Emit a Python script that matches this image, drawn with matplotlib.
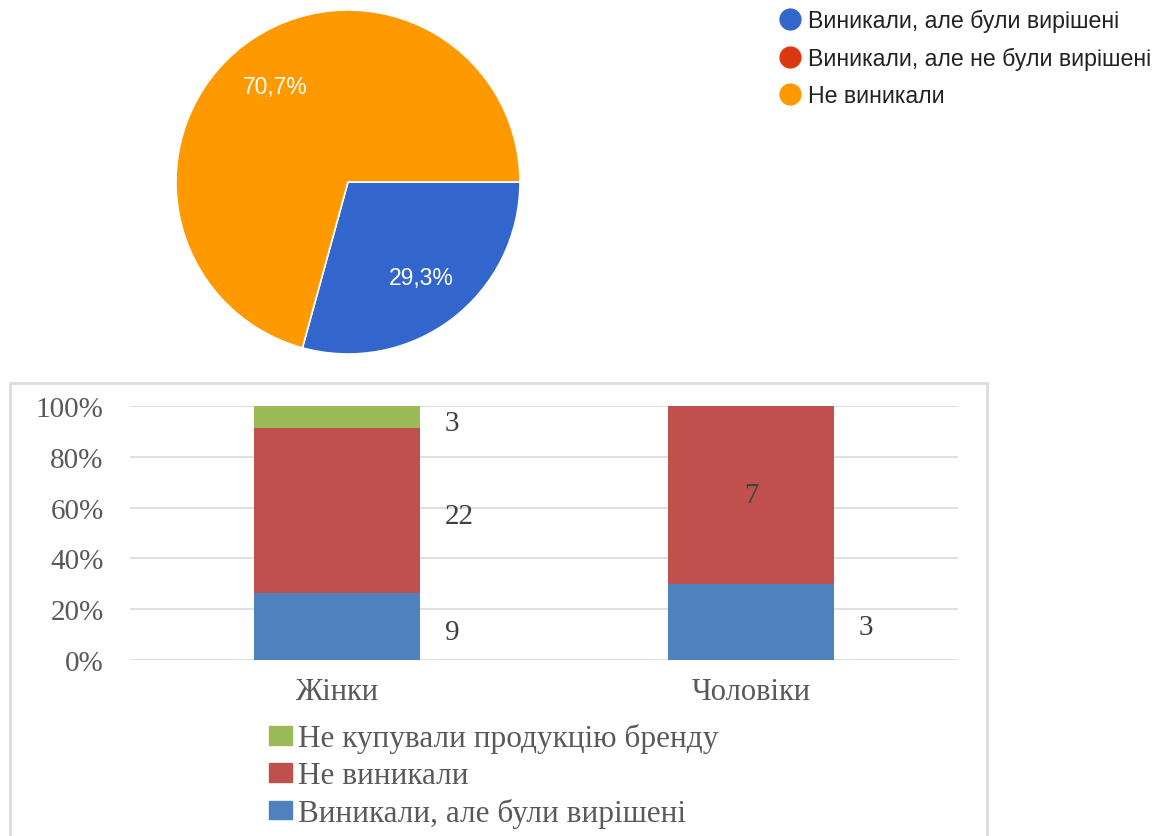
import matplotlib.pyplot as plt
from matplotlib.lines import Line2D
from matplotlib.patches import Rectangle, Patch
from matplotlib.ticker import PercentFormatter

# Кругова діаграма: чи виникали проблеми
pie_labels = ["Виникали, але були вирішені", "Виникали, але не були вирішені", "Не виникали"]
pie_counts = [12, 0, 29]
pie_colors = ["#3366cc", "#dc3912", "#ff9900"]

# Стовпчикова діаграма за статтю
groups = ["Жінки", "Чоловіки"]
series = ["Виникали, але були вирішені", "Не виникали", "Не купували продукцію бренду"]
resolved = [9, 3]
no_problems = [22, 7]
not_bought = [3, 0]
bar_colors = ["#4f81bd", "#c0504d", "#9bbb59"]

W, H = 1168, 837
fig = plt.figure(figsize=(W / 100, H / 100), dpi=100)
fig.patch.set_facecolor("white")

def fig_box(x0, y0, x1, y1):
    """Пікселі (зверху вниз) -> координати фігури."""
    return [x0 / W, 1 - y1 / H, (x1 - x0) / W, (y1 - y0) / H]

# --- кругова ---
cx, cy, r = 348, 183, 172
ax_pie = fig.add_axes(fig_box(cx - r, cy - r, cx + r, cy + r))
vals = [v for v in pie_counts if v > 0]
cols = [c for v, c in zip(pie_counts, pie_colors) if v > 0]
wedges, _, autotexts = ax_pie.pie(
    vals, colors=cols, startangle=0, counterclock=False,
    autopct=lambda p: f"{p:.1f}%".replace(".", ","), pctdistance=0.7,
    wedgeprops=dict(edgecolor="white", linewidth=1.2),
    textprops=dict(color="white", fontsize=16.5, family="Liberation Sans"))
ax_pie.set_xlim(-1, 1)
ax_pie.set_ylim(-1, 1)

handles = [Line2D([], [], marker="o", ls="", markersize=15, color=c) for c in pie_colors]
fig.legend(handles, pie_labels, loc="upper left", bbox_to_anchor=(767 / W, 1 - 1 / H),
           frameon=False, prop=dict(family="Liberation Sans", size=16.7),
           labelcolor="#222222", handletextpad=0.15, labelspacing=0.62,
           handlelength=1.2, borderaxespad=0)

# --- рамка нижньої діаграми ---
fig.patches.append(Rectangle((10 / W, -0.02), 977 / W, 1 - 384 / H + 0.02,
                             transform=fig.transFigure, fill=False,
                             edgecolor="#dcdcdc", linewidth=2))

# --- стовпчикова 100% ---
ax = fig.add_axes(fig_box(130, 407, 958, 661))
x = range(len(groups))
stack = [resolved, no_problems, not_bought]
totals = [sum(s[i] for s in stack) for i in x]
inside = {(1, 1)}
bottom = [0.0] * len(groups)
for k, (vals_k, col) in enumerate(zip(stack, bar_colors)):
    shares = [v / t for v, t in zip(vals_k, totals)]
    ax.bar(x, shares, width=0.4, bottom=bottom, color=col, zorder=3)
    for i, (s, v) in enumerate(zip(shares, vals_k)):
        if v == 0:
            continue
        ymid = bottom[i] + s / 2
        if (i, k) in inside:
            ax.text(i, ymid, str(v), ha="center", va="center",
                    family="Liberation Serif", size=21, color="#404040", zorder=4)
        else:
            ax.annotate(str(v), (i + 0.2, ymid), xytext=(18, -4), textcoords="offset points",
                        ha="left", va="center", family="Liberation Serif", size=21,
                        color="#404040")
    bottom = [b + s for b, s in zip(bottom, shares)]

ax.set_xlim(-0.5, 1.5)
ax.set_ylim(0, 1)
ax.set_yticks([0, 0.2, 0.4, 0.6, 0.8, 1.0])
ax.yaxis.set_major_formatter(PercentFormatter(1.0, decimals=0))
ax.set_xticks(list(x), groups)
for s in ax.spines.values():
    s.set_visible(False)
ax.grid(axis="y", color="#d9d9d9", linewidth=1.2, zorder=0)
ax.tick_params(axis="y", length=0, pad=19, labelsize=21, labelcolor="#595959")
ax.tick_params(axis="x", length=0, pad=12, labelsize=22, labelcolor="#595959")
for lab in ax.get_xticklabels() + ax.get_yticklabels():
    lab.set_family("Liberation Serif")

leg_handles = [Patch(color=c) for c in bar_colors][::-1]
fig.legend(leg_handles, series[::-1], loc="upper left", bbox_to_anchor=(256 / W, 1 - 712 / H),
           frameon=False, prop=dict(family="Liberation Serif", size=22.5),
           labelcolor="#595959", handlelength=0.75, handleheight=0.55,
           handletextpad=0.2, labelspacing=0.25, borderaxespad=0)

fig.savefig("out.png", dpi=100)
